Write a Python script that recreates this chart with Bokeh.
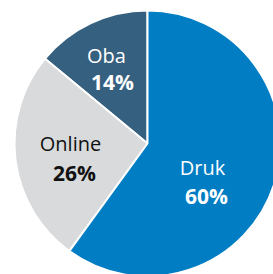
import numpy as np
from bokeh.plotting import figure
from bokeh.models import ColumnDataSource
from bokeh.core.properties import value
from bokeh.embed import file_html
from bokeh.resources import INLINE

categories = ["Oba", "Online", "Druk"]
shares = [14, 26, 60]
pct_labels = ["14%", "26%", "60%"]
colors = ["#36607F", "#D8DADB", "#007DC3"]
text_colors = ["#FFFFFF", "#111111", "#FFFFFF"]

# layout
W, H = 273, 274
cx, cy, R = 147, H - 143, 133
name_off = [(-41, 88), (-77, 0), (55, -24)]
pct_off = [(-35, 62), (-73, -29), (59, -52)]

fr = np.array(shares) / sum(shares)
ends = np.pi / 2 + 2 * np.pi * np.cumsum(fr)
starts = np.concatenate([[np.pi / 2], ends[:-1]])

src = ColumnDataSource(dict(start=starts, end=ends, color=colors))

p = figure(width=W, height=H, x_range=(0, W), y_range=(0, H),
           output_backend="svg", toolbar_location=None, min_border=0,
           outline_line_color=None)
p.axis.visible = False
p.grid.visible = False
p.background_fill_color = "white"

p.wedge(x=cx, y=cy, radius=R, start_angle="start", end_angle="end",
        fill_color="color", line_color="white", line_width=2, source=src)

lsrc = ColumnDataSource(dict(
    nx=[cx + o[0] for o in name_off], ny=[cy + o[1] for o in name_off],
    px=[cx + o[0] for o in pct_off], py=[cy + o[1] for o in pct_off],
    name=categories, pct=pct_labels, tc=text_colors))

p.text(x="nx", y="ny", text="name", source=lsrc, text_color="tc",
       text_font=value("Open Sans"), text_font_size="20px",
       text_align="center", text_baseline="middle")
p.text(x="px", y="py", text="pct", source=lsrc, text_color="tc",
       text_font=value("Open Sans"), text_font_size="21px", text_font_style="bold",
       text_align="center", text_baseline="middle")

open("out.html", "w").write(file_html(p, INLINE))
